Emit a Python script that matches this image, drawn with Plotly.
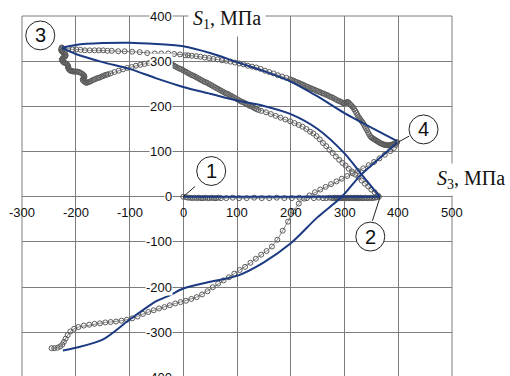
import plotly.graph_objects as go

# ---- axes ----
X_RANGE = [-300, 500]
Y_RANGE = [-396.5, 400]
x_ticks = [-300, -200, -100, 0, 100, 200, 300, 400, 500]
y_ticks = [400, 300, 200, 100, 0, -100, -200, -300, -400]

# ---- experimental path (S3, S1), MPa ----
# 1 -> 2 : loading along S1 ~ 0
exp12_s3 = [0, 5, 9, 13, 17, 21, 25, 29, 33, 37, 41, 45, 49, 53, 57, 61, 65, 70, 80, 92,
            104, 118, 132, 146, 160, 174, 188, 202, 216, 230, 243, 252, 260, 266, 272, 277,
            280, 282, 284, 286, 288, 290, 292, 294, 296, 298, 300, 302, 304, 306, 308, 310,
            312, 314, 316, 318, 320, 322, 324, 326, 328, 330, 333, 336, 339, 342, 345, 348,
            351, 354, 357, 360, 364]
exp12_s1 = [0, -1, -2, -2, -3, -2, -3, -2, -3, -3, -2, -3, -3, -2, -3, -3, -2, -3, -3, -2,
            -3, -3, -2, -3, -3, -2, -3, -3, -2, -3, -3, -2, -3, -3, -2, -3,
            -3, -2, -3, -3, -2, -3, -3, -2, -3, -3, -2, -3, -3, -2, -3, -3,
            -2, -3, -3, -2, -3, -3, -2, -3, -3, -2, -3, -3, -2, -3, -3, -2,
            -3, -2, -2, -1, 0]

# 2 -> 3 : return path to the left
exp23_s3 = [362, 356, 350, 344, 338, 332, 326, 320, 314, 308, 302, 296, 290, 284, 278, 272,
            266, 260, 254, 248, 242, 236, 229, 222, 215, 207, 199, 190, 181, 172, 163, 154,
            145, 140, 136, 133, 130, 127, 124, 121, 118, 115, 112, 109, 106, 103, 100, 97,
            94, 91, 88, 85, 82, 79, 76, 73, 70, 67, 64, 61, 58, 55, 52, 49, 46, 43, 40, 37,
            34, 31, 28, 25, 22, 19, 16, 13, 10, 7, 4, 1, -2, -5, -8, -11, -14, -17, -20, -23,
            -28, -33, -40, -48, -56, -64, -72, -80, -88, -96, -104, -112, -120, -128, -135,
            -140, -143, -146, -149, -152, -155, -158, -161, -164, -167, -170, -173, -176,
            -178, -180, -182, -184, -186, -187, -186, -185, -184, -184, -185, -187, -189,
            -192, -194, -197, -199, -202, -204, -206, -208, -210, -212, -213, -214, -214,
            -214, -215, -216, -218, -220, -222, -224, -225, -226, -225, -224, -222, -220,
            -219, -219, -220, -222, -224, -226, -227, -227, -226, -226]
exp23_s1 = [3, 10, 16, 23, 29, 36, 43, 49, 56, 62, 69, 75, 82, 89, 97, 104,
            112, 119, 127, 134, 140, 144, 150, 155, 159, 163, 167, 171, 175, 179, 183, 187,
            190, 192, 194, 196, 198, 200, 201, 203, 205, 207, 209, 210, 212, 214, 216, 218,
            220, 222, 224, 226, 228, 229, 231, 233, 235, 237, 239, 241, 243, 245, 247, 249,
            251, 253, 254, 256, 258, 260, 262, 264, 266, 268, 269, 271, 273, 275, 277, 279,
            281, 283, 284, 286, 288, 290, 292, 294,
            296, 299, 300, 299, 298, 296, 294, 292, 290, 287, 285, 282, 279, 276, 273,
            271, 270, 269, 267, 266, 264, 263, 262, 260, 259, 257, 255, 254,
            253, 252, 253, 255, 257, 259, 261, 263, 265, 267, 269, 271, 273,
            275, 276, 277, 277, 277, 277, 278, 278, 279, 281, 283, 285, 287,
            289, 291, 293, 295, 296, 297, 299, 301, 303, 305, 307, 309, 310,
            312, 314, 316, 318, 320, 322, 324, 326, 328, 330]

# 3 -> 4 : upper path
exp34_s3 = [-226, -214, -206, -199, -191, -183, -174, -165, -157, -149, -141, -133, -121,
            -109, -95, -81, -67, -53, -41, -28, -17, -6, 4, 9, 16, 24, 32, 40, 48, 56, 64,
            72, 80, 88, 96, 104, 112, 120, 128, 136, 144, 152, 160, 168, 176, 184, 192,
            199, 202, 205, 208, 211, 214, 217, 220, 223, 226, 229, 232, 235, 238, 241, 244,
            247, 250, 253, 256, 259, 262, 265, 268, 271, 274, 277, 280, 283, 286, 289, 292,
            295, 298, 300, 302, 304, 306, 308, 310, 312, 314, 316, 318, 320, 322, 324, 326,
            328, 330, 332, 334, 336, 338, 340, 342, 344, 346, 348, 350, 352, 354, 356, 358,
            360, 362, 364, 366, 368, 370, 372, 374, 376, 378, 380, 382, 384, 386, 388, 390,
            392, 394, 396, 398]
exp34_s1 = [330, 327, 326, 326, 325, 324, 324, 324, 324, 324, 323, 323, 322,
            322, 321, 320, 318, 317, 317, 317, 316, 315, 313, 313, 312, 311, 310, 308, 307,
            305, 304, 302, 301, 299, 297, 295, 293, 290, 288, 286, 283, 279, 276, 273, 269,
            266, 263,
            260, 258, 257, 255, 254, 252, 251, 249, 248, 246, 244, 243, 241, 240, 238, 237,
            235, 234, 232, 231, 229, 228, 226, 225, 223, 221, 220, 218, 216, 214, 212, 211,
            209, 207, 207, 208, 209, 210, 208, 205, 203, 200, 198, 194, 190, 186, 181, 177,
            174, 170, 167, 164, 160, 155, 151, 147, 142, 138, 134, 131, 130, 128, 127, 125,
            124, 122, 121, 119, 118, 117, 116, 115, 115, 114, 114, 114, 114, 115, 115, 116,
            117, 118, 119, 121]

# 4 -> lower left
exp4_s3 = [396, 392, 385, 375, 365, 355, 345, 335, 325, 315, 305, 295, 285, 275, 265, 255,
           245, 235, 225, 215, 205, 195, 185, 175, 165, 155, 145, 135, 125, 115, 105, 95,
           85, 75, 65, 55, 45, 35, 25, 15, 5, -5, -15, -25, -35, -45, -55, -65, -75, -85,
           -95, -105, -115, -125, -135, -145, -155, -165, -175, -185, -195, -203, -210,
           -215, -219, -222, -225, -229, -234, -240, -245]
exp4_s1 = [115, 108, 101, 93, 85, 77, 70, 63, 57, 52, 46, 40, 34, 28, 22, 16,
           10, 3, -4, -15, -32, -55, -75, -95, -110, -120, -128, -137, -146, -155, -162, -170,
           -178, -185, -192, -200, -209, -216, -222, -226, -230, -233, -236, -240, -244,
           -247, -251, -255, -259, -265, -269, -272, -274, -276, -277, -278, -280, -281,
           -283, -285, -288, -292, -298, -306, -314, -321, -327, -331, -334, -335, -335]

# ---- calculated curves (S3, S1), MPa ----
calc12_s3 = [0, 366]
calc12_s1 = [0, 0]
calc23_s3 = [366, 330, 300, 250, 200, 150, 100, 50, 0, -50, -100, -150, -200, -226]
calc23_s1 = [0, 52, 96, 150, 183, 201, 213, 228, 243, 262, 283, 298, 316, 330]
calc34_s3 = [-226, -200, -150, -100, -50, 0, 50, 100, 150, 200, 250, 300, 350, 398]
calc34_s1 = [330, 336, 340, 341, 338, 333, 318, 298, 278, 255, 222, 185, 153, 123]
calc4_s3 = [398, 365, 330, 295, 250, 200, 150, 100, 50, 0, -25, -50, -100, -150, -200, -224]
calc4_s1 = [120, 85, 48, 0, -45, -103, -145, -175, -188, -203, -218, -231, -272, -316, -334, -340]

# ---- numbered states: label, centre (S3, S1), leader line ----
state_labels = ["3", "1", "2", "4"]
state_pos = [(-266, 357), (52, 57), (348, -88), (447, 149)]
leader_from = [None, (22, 23), (352, -53), (420, 134)]
leader_to = [None, (0, 0), (366, -1), (400, 121)]

BLUE = "#1b3a82"
GRID = "#7c7c7c"
GREY = "#5a5a5a"


def px(x):
    return (x - X_RANGE[0]) / (X_RANGE[1] - X_RANGE[0])


def py(y):
    return (y - Y_RANGE[0]) / (Y_RANGE[1] - Y_RANGE[0])


fig = go.Figure()

for xs, ys in [(exp12_s3, exp12_s1), (exp23_s3, exp23_s1),
               (exp34_s3, exp34_s1), (exp4_s3, exp4_s1)]:
    fig.add_trace(go.Scatter(
        x=xs, y=ys, mode="lines+markers",
        line=dict(color="#8a8a8a", width=1),
        marker=dict(symbol="circle-open", size=5, color=GREY, line=dict(width=1)),
        hoverinfo="skip", showlegend=False))

for xs, ys in [(calc12_s3, calc12_s1), (calc23_s3, calc23_s1),
               (calc34_s3, calc34_s1), (calc4_s3, calc4_s1)]:
    fig.add_trace(go.Scatter(
        x=xs, y=ys, mode="lines",
        line=dict(color=BLUE, width=2, shape="spline", smoothing=0.8),
        hoverinfo="skip", showlegend=False))

annotations = []
tick_font = dict(family="Liberation Sans, Arial, sans-serif", size=13, color="#111111")
for v in x_ticks:
    annotations.append(dict(x=px(v), y=py(0), xref="paper", yref="paper", text=str(v),
                            showarrow=False, xanchor="center", yanchor="middle",
                            yshift=-16, font=tick_font))
for v in y_ticks:
    annotations.append(dict(x=px(0), y=py(v), xref="paper", yref="paper", text=str(v),
                            showarrow=False, xanchor="right", yanchor="middle",
                            xshift=-10, bgcolor="white", borderpad=0, font=tick_font))

title_font = dict(family="Liberation Serif, Times New Roman, serif", size=20, color="#111111")
annotations.append(dict(x=px(82), y=py(392), xref="paper", yref="paper",
                        text="<i>S</i><sub>1</sub>, МПа", showarrow=False,
                        xanchor="center", yanchor="middle", bgcolor="white",
                        borderpad=4, font=title_font))
annotations.append(dict(x=px(536), y=py(38), xref="paper", yref="paper",
                        text="<i>S</i><sub>3</sub>, МПа", showarrow=False,
                        xanchor="center", yanchor="middle", bgcolor="white",
                        borderpad=3, font=title_font))

shapes = [dict(type="path", xref="paper", yref="paper",
               path="M 0 0 L 0 1 L 1 1 L 1 0", line=dict(color=GRID, width=1),
               layer="below")]

rx, ry = 27, 32
for lab, (cx, cy), lf, lt in zip(state_labels, state_pos, leader_from, leader_to):
    if lf is not None:
        shapes.append(dict(type="line", xref="x", yref="y", x0=lf[0], y0=lf[1],
                           x1=lt[0], y1=lt[1], line=dict(color="#222222", width=1)))
    shapes.append(dict(type="circle", xref="x", yref="y",
                       x0=cx - rx, x1=cx + rx, y0=cy - ry, y1=cy + ry,
                       fillcolor="white", line=dict(color="#222222", width=1)))
    annotations.append(dict(x=cx, y=cy, xref="x", yref="y", text=lab, showarrow=False,
                            xanchor="center", yanchor="middle",
                            font=dict(family="Liberation Sans, Arial, sans-serif",
                                      size=20, color="#111111")))

axis_common = dict(showticklabels=False, ticks="", showgrid=True, gridcolor=GRID,
                   gridwidth=1, zeroline=True, zerolinecolor=GRID, zerolinewidth=1,
                   showline=False, dtick=100, tick0=0)

fig.update_layout(
    width=510, height=376,
    margin=dict(l=22, r=58, t=16, b=0),
    paper_bgcolor="white", plot_bgcolor="white",
    xaxis=dict(range=X_RANGE, **axis_common),
    yaxis=dict(range=Y_RANGE, **axis_common),
    annotations=annotations, shapes=shapes, showlegend=False,
)

fig.write_html("out.html")
